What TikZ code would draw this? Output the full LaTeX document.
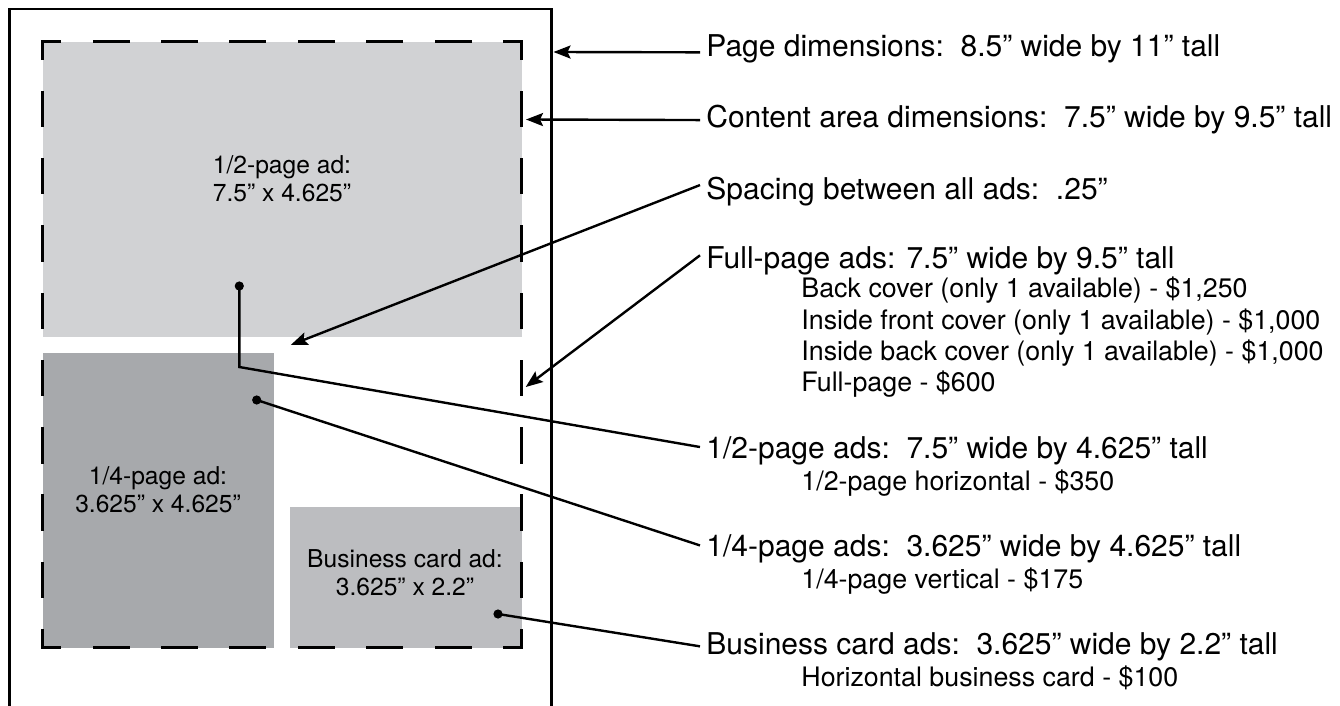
\documentclass[tikz,border=0pt]{standalone}
\usepackage{fontspec}
\setmainfont{TeX Gyre Heros}
\usepackage{xcolor}
\usepackage{tikz}
\usetikzlibrary{arrows.meta}

\definecolor{halfgray}{RGB}{209,210,212}
\definecolor{quartergray}{RGB}{167,169,172}
\definecolor{cardgray}{RGB}{188,189,192}

\begin{document}
\begin{tikzpicture}[x=0.5pt, y=-0.5pt,
  pageline/.style={line width=1.3pt},
  cutline/.style={line width=1.4pt, line cap=rect},
  lead/.style={line width=1.2pt},
  pointer/.style={line width=1.2pt, -{Stealth[length=8.5pt, width=6.5pt, inset=1.5pt]}},
  dot/.style={fill=black},
  maintext/.style={anchor=base west, inner sep=3pt, font=\fontsize{15}{18}\selectfont},
  subtext/.style={anchor=base west, inner sep=3pt, font=\fontsize{13.4}{16}\selectfont},
  adlabel/.style={align=center, inner sep=0pt, font=\fontsize{12.3}{14}\selectfont}]
\useasboundingbox (0,0) rectangle (1340,706);
%%%%% Page %%%%%
\draw[pageline] (9.7,706)--(9.7,9)--(551.7,9)--(551.7,706);
%%%%% Ads %%%%%
\fill[halfgray] (43,42) rectangle (521.5,336.7);
\fill[quartergray] (43,353.3) rectangle (273.5,647.5);
\fill[cardgray] (290,507.3) rectangle (521.5,647.5);
\node[adlabel] (halflabel) at (282,179) {1/2-page ad:\\7.5” x 4.625”};
\node[adlabel] (quarterlabel) at (158,490) {1/4-page ad:\\3.625” x 4.625”};
\node[adlabel] (cardlabel) at (405,572.5) {Business card ad:\\3.625” x 2.2”};
%%%%% Content area %%%%%
\foreach \y in {41.7,647.3}{
\draw[cutline, dash pattern=on 17.1pt off 17.1pt, dash phase=8.55pt] (42.7,\y)--(521.5,\y);
}
\foreach \x in {42.7,521.5}{
\draw[cutline, dash pattern=on 16.82pt off 16.82pt, dash phase=8.41pt] (\x,41.7)--(\x,647.3);
}
%%%%% Labels %%%%%
\node[maintext] (pagedim) at (700,57) {Page dimensions:~~8.5” wide by 11” tall};
\node[maintext] (contentdim) at (700,128) {Content area dimensions:~~7.5” wide by 9.5” tall};
\node[maintext] (spacing) at (700,199) {Spacing between all ads:~~.25”};
\node[maintext] (fullads) at (700,269) {Full-page ads: 7.5” wide by 9.5” tall};
\node[subtext] (backcover) at (795,298) {Back cover (only 1 available) - \$1,250};
\node[subtext] (frontin) at (795,329) {Inside front cover (only 1 available) - \$1,000};
\node[subtext] (backin) at (795,360) {Inside back cover (only 1 available) - \$1,000};
\node[subtext] (fullpage) at (795,391) {Full-page - \$600};
\node[maintext] (halfads) at (700,458.5) {1/2-page ads:~~7.5” wide by 4.625” tall};
\node[subtext] (halfhor) at (795,490) {1/2-page horizontal - \$350};
\node[maintext] (quarterads) at (700,556.7) {1/4-page ads:~~3.625” wide by 4.625” tall};
\node[subtext] (quarterver) at (795,588.5) {1/4-page vertical - \$175};
\node[maintext] (cardads) at (700,654) {Business card ads:~~3.625” wide by 2.2” tall};
\node[subtext] (cardhor) at (795,686) {Horizontal business card - \$100};
%%%%% Pointers %%%%%
\coordinate (pagetip) at (553.5,52);
\coordinate (contenttip) at (526,119.5);
\coordinate (spacetip) at (290.7,345);
\coordinate (fulltip) at (525.7,387);
\draw[pointer] ([yshift=-1.5pt]pagedim.west)--(pagetip);
\draw[pointer] (contentdim.west)--(contenttip);
\draw[pointer] ([yshift=3pt]spacing.west)--(spacetip);
\draw[pointer] ([yshift=3pt]fullads.west)--(fulltip);
\coordinate (halfdot) at (239.3,286);
\coordinate (halfbend) at (239.3,367);
\coordinate (quarterdot) at (256.7,400);
\coordinate (carddot) at (498,614);
\draw[lead] (halfdot)--(halfbend)--([yshift=1.9pt]halfads.west);
\draw[lead] (quarterdot)--([yshift=1.8pt]quarterads.west);
\draw[lead] (carddot)--(cardads.west);
\foreach \d in {halfdot,quarterdot,carddot}{
\fill[dot] (\d) circle[radius=2.3pt];
}

\end{tikzpicture}
\end{document}
